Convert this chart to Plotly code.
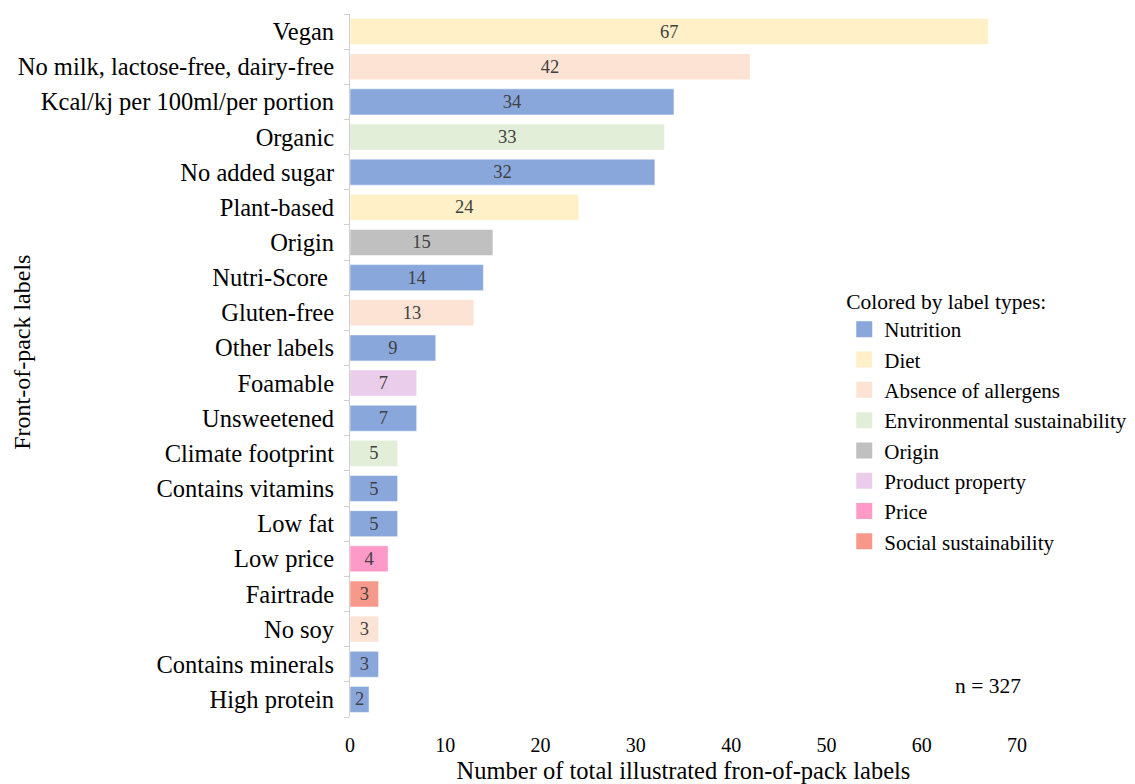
import plotly.graph_objects as go

# Front-of-pack labels, top to bottom, with counts and label type
labels = ["Vegan", "No milk, lactose-free, dairy-free", "Kcal/kj per 100ml/per portion",
          "Organic", "No added sugar", "Plant-based", "Origin", "Nutri-Score ",
          "Gluten-free", "Other labels", "Foamable", "Unsweetened", "Climate footprint",
          "Contains vitamins", "Low fat", "Low price", "Fairtrade", "No soy",
          "Contains minerals", "High protein"]
counts = [67, 42, 34, 33, 32, 24, 15, 14, 13, 9, 7, 7, 5, 5, 5, 4, 3, 3, 3, 2]
label_types = ["Diet", "Absence of allergens", "Nutrition", "Environmental sustainability",
               "Nutrition", "Diet", "Origin", "Nutrition", "Absence of allergens",
               "Nutrition", "Product property", "Nutrition", "Environmental sustainability",
               "Nutrition", "Nutrition", "Price", "Social sustainability",
               "Absence of allergens", "Nutrition", "Nutrition"]

type_order = ["Nutrition", "Diet", "Absence of allergens", "Environmental sustainability",
              "Origin", "Product property", "Price", "Social sustainability"]
type_colors = {
    "Nutrition": "#8aa7dc",
    "Diet": "#fff0c8",
    "Absence of allergens": "#fde3d4",
    "Environmental sustainability": "#e2eed8",
    "Origin": "#c0c0c0",
    "Product property": "#e9cdea",
    "Price": "#fd9ac8",
    "Social sustainability": "#f6998a",
}
total_n = 327

FONT = "Liberation Serif, Times New Roman, serif"

fig = go.Figure()
for t in type_order:
    ys = [l for l, tt in zip(labels, label_types) if tt == t]
    xs = [c for c, tt in zip(counts, label_types) if tt == t]
    fig.add_trace(go.Bar(
        y=ys, x=xs, orientation="h", name=t, showlegend=False,
        marker=dict(color=type_colors[t], line=dict(color="rgba(255,255,255,0.5)", width=1)),
        text=[str(v) for v in xs], textposition="inside", insidetextanchor="middle",
        textangle=0, constraintext="none",
        textfont=dict(family=FONT, size=18.5, color="#404040"),
        hoverinfo="x+y",
    ))

# legend entries with large square swatches
for t in type_order:
    fig.add_trace(go.Scatter(
        x=[None], y=[None], mode="markers", name=t,
        marker=dict(symbol="square", size=17, color=type_colors[t]),
        showlegend=True,
    ))

fig.update_layout(
    width=1135, height=784,
    margin=dict(l=350, r=118, t=14, b=67, autoexpand=False),
    paper_bgcolor="white", plot_bgcolor="white",
    barmode="overlay", bargap=0.26,
    font=dict(family=FONT, size=20, color="#000000"),
    xaxis=dict(
        range=[0, 70], dtick=10, tick0=0, showgrid=False, zeroline=False,
        showline=False, ticks="", tickfont=dict(size=20), ticklabelstandoff=14,
        title=dict(text="Number of total illustrated fron-of-pack labels",
                   font=dict(size=24.5), standoff=9),
    ),
    yaxis=dict(
        categoryorder="array", categoryarray=labels[::-1],
        showline=True, linecolor="#d0d0d0", linewidth=1,
        ticks="outside", tickson="boundaries", ticklen=5, tickcolor="#d0d0d0",
        showgrid=False, tickfont=dict(size=24.5), ticklabelstandoff=10,
    ),
    legend=dict(
        title=dict(text="Colored by label types:", font=dict(size=21.5)),
        font=dict(size=21), traceorder="normal",
        x=0.741, xanchor="left", y=0.62, yanchor="top",
        bgcolor="rgba(0,0,0,0)", itemsizing="trace", itemwidth=30,
    ),
    showlegend=True,
)

# y-axis title placed at the far left edge
fig.add_annotation(
    text="Front-of-pack labels", xref="paper", yref="paper",
    x=(22 - 350) / 667, y=0.518, xanchor="center", yanchor="middle",
    textangle=-90, showarrow=False, font=dict(size=24),
)

fig.add_annotation(
    text=f"n = {total_n}", x=67.0, y="High protein", yshift=13,
    xref="x", yref="y", showarrow=False, font=dict(size=21.5),
)

fig.write_html("out.html")
